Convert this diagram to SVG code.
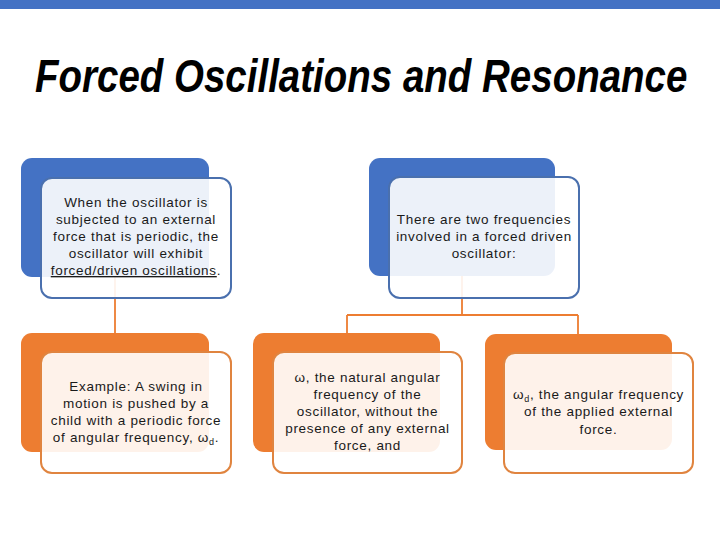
<svg xmlns="http://www.w3.org/2000/svg" width="720" height="540" viewBox="0 0 720 540">
<style>
.back-b{fill:#4472C4}
.back-o{fill:#ED7D31}
.front-b{fill:#FFFFFF;fill-opacity:0.9;stroke:#4A70AE;stroke-width:2}
.front-o{fill:#FFFFFF;fill-opacity:0.9;stroke:#E0843F;stroke-width:2}
.t{font-family:"Liberation Sans",Arial,sans-serif;font-size:13.5px;fill:#1a1a1a;text-anchor:middle;letter-spacing:0.7px}
.conn{fill:none;stroke:#ED7D31;stroke-width:1.8}
.sub{font-size:9px}
</style>
<rect x="0" y="0" width="720" height="9" fill="#4472C4"/>
<text transform="translate(35 92) scale(0.837 1)" x="0" y="0" font-family="'Liberation Sans',Arial,sans-serif" font-size="46" font-weight="bold" font-style="italic" fill="#000">Forced Oscillations and Resonance</text>
<g id="connectors">
<path class="conn" d="M115 277 V333"/>
<path class="conn" d="M462 276 V315 M347 315 H578 M347 315 V333 M578 315 V334"/>
</g>
<g id="node1">
<rect class="back-b" x="21" y="158" width="188" height="119" rx="11"/>
<rect class="front-b" x="41" y="178" width="190" height="120" rx="11"/>
<text class="t" x="136" y="207">When the oscillator is</text>
<text class="t" x="136" y="224">subjected to an external</text>
<text class="t" x="136" y="241">force that is periodic, the</text>
<text class="t" x="136" y="258">oscillator will exhibit</text>
<text class="t" x="136" y="275"><tspan text-decoration="underline">forced/driven oscillations</tspan>.</text>
</g>
<g id="node2">
<rect class="back-b" x="369" y="158" width="186" height="118" rx="11"/>
<rect class="front-b" x="389" y="177" width="190" height="121" rx="11"/>
<text class="t" x="484" y="224">There are two frequencies</text>
<text class="t" x="484" y="241">involved in a forced driven</text>
<text class="t" x="484" y="258">oscillator:</text>
</g>
<g id="node3">
<rect class="back-o" x="21" y="333" width="188" height="119" rx="11"/>
<rect class="front-o" x="41" y="352" width="190" height="121" rx="11"/>
<text class="t" x="136" y="391">Example: A swing in</text>
<text class="t" x="136" y="408">motion is pushed by a</text>
<text class="t" x="136" y="425">child with a periodic force</text>
<text class="t" x="136" y="442">of angular frequency, ω<tspan class="sub" dy="3">d</tspan><tspan dy="-3">.</tspan></text>
</g>
<g id="node4">
<rect class="back-o" x="253" y="333" width="187" height="119" rx="11"/>
<rect class="front-o" x="273" y="352" width="189" height="121" rx="11"/>
<text class="t" x="367.5" y="382">ω, the natural angular</text>
<text class="t" x="367.5" y="399">frequency of the</text>
<text class="t" x="367.5" y="416">oscillator, without the</text>
<text class="t" x="367.5" y="433">presence of any external</text>
<text class="t" x="367.5" y="450">force, and</text>
</g>
<g id="node5">
<rect class="back-o" x="485" y="334" width="187" height="116" rx="11"/>
<rect class="front-o" x="504" y="353" width="189" height="120" rx="11"/>
<text class="t" x="598.5" y="399">ω<tspan class="sub" dy="3">d</tspan><tspan dy="-3">, the angular frequency</tspan></text>
<text class="t" x="598.5" y="416">of the applied external</text>
<text class="t" x="598.5" y="434">force.</text>
</g>
</svg>
